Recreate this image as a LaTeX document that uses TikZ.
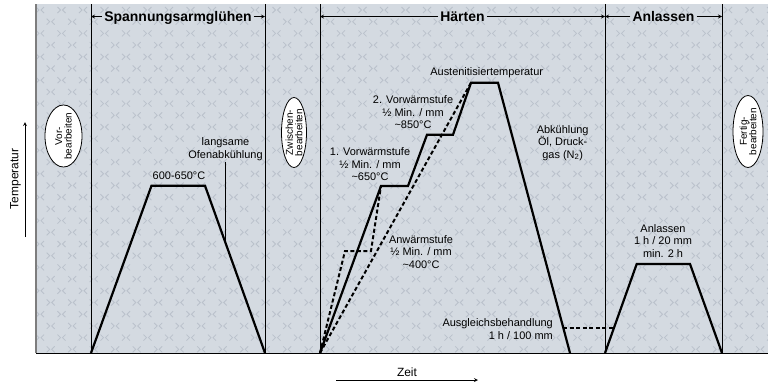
\documentclass[tikz,border=0pt]{standalone}
\usepackage{fontspec}
\setmainfont{Liberation Sans}
\definecolor{chartbg}{RGB}{212,218,225}
\definecolor{chartx}{RGB}{186,193,203}
\definecolor{edgegray}{RGB}{125,125,125}
\begin{document}
\begin{tikzpicture}[x=1bp,y=-1bp,>=stealth,
    curve/.style={line width=2.2bp,line join=miter},
    stage/.style={dash pattern=on 4bp off 2.5bp,line width=2bp},
    lbl/.style={font=\fontsize{11}{12.5}\selectfont,align=center,inner sep=1bp},
    hdr/.style={font=\fontsize{14}{16}\selectfont\bfseries,inner sep=2bp,text height=10bp,text depth=0bp},
    tag/.style={font=\fontsize{10}{9.5}\selectfont,align=center,rotate=90,inner sep=0pt},
    axislbl/.style={font=\fontsize{12}{14}\selectfont,inner sep=1bp}]
\useasboundingbox (0,0) rectangle (768,387);
% background with cross pattern
\fill[chartbg] (36,4) rectangle (768,353);
\begin{scope}
  \clip (36,4) rectangle (768,353);
  \foreach \r in {0,...,29}{
    \pgfmathsetmacro{\yy}{10+11.7*\r}
    \pgfmathsetmacro{\xo}{40+10.7*mod(\r,2)}
    \foreach \c in {-1,...,34}{
      \begin{scope}[shift={({\xo+21.5*\c},\yy)}]
        \draw[chartx,line width=0.8bp] (-4,-3)--(-1,0)--(-4,3) (4,-3)--(1,0)--(4,3);
      \end{scope}
    }
  }
\end{scope}
% stage borders
\coordinate (vA) at (91,4);
\coordinate (vB) at (265,4);
\coordinate (vC) at (320,4);
\coordinate (vD) at (605,4);
\coordinate (vE) at (722,4);
\draw[edgegray,line width=1.2bp] (36,4) -- (36,353);
\foreach \v in {vA,vB,vC,vD,vE}
  \draw[line width=0.9bp] (\v) -- (\v |- 0,353);
% headers
\node[hdr] (hdrSpan) at (178,16.5) {Spannungsarmglühen};
\node[hdr] (hdrHaert) at (462.5,16.5) {Härten};
\node[hdr] (hdrAnl) at (663.5,16.5) {Anlassen};
\draw[->,line width=0.8bp] (hdrSpan.west) -- (hdrSpan.west -| vA);
\draw[->,line width=0.8bp] (hdrSpan.east) -- (hdrSpan.east -| vB);
\draw[->,line width=0.8bp] (hdrHaert.west) -- (hdrHaert.west -| vC);
\draw[->,line width=0.8bp] (hdrHaert.east) -- (hdrHaert.east -| vD);
\draw[->,line width=0.8bp] (hdrAnl.west) -- (hdrAnl.west -| vD);
\draw[->,line width=0.8bp] (hdrAnl.east) -- (hdrAnl.east -| vE);
% processing ellipses
\coordinate (vorC) at (63.5,136);
\coordinate (zwiC) at (294,132.5);
\coordinate (fertC) at (748,131.5);
\draw[fill=white,line width=0.8bp] (vorC) ellipse [x radius=18.5,y radius=31];
\draw[fill=white,line width=0.8bp] (zwiC) ellipse [x radius=12.5,y radius=35];
\draw[fill=white,line width=0.8bp] (fertC) ellipse [x radius=15,y radius=36];
\node[tag] (vorLbl) at (vorC) {Vor-\\bearbeiten};
\node[tag] (zwiLbl) at (zwiC) {Zwischen-\\bearbeiten};
\node[tag] (fertLbl) at (fertC) {Fertig-\\bearbeiten};
% temperature curves
\draw[curve] (91,353) -- (151.5,185.7) -- (205,185.7) -- (265,353);
\draw[curve] (320,353) -- (381,186) -- (408,186) -- (427,134.7) -- (453,134.7)
  -- (471,82.7) -- (498,82.7) -- (570,353);
\draw[stage] (320,353) -- (345,251) -- (371,251) -- (381,186);
\draw[stage] (320,353) -- (471,82.7);
\draw[stage] (563.3,328) -- (613.5,328);
\draw[curve] (605,353) -- (636.7,264) -- (690,264) -- (722,353);
\draw[line width=1bp] (36,353) -- (768,353);
% labels
\node[lbl] (plateauLbl) at (179,176) {600-650°C};
\node[lbl] (ofenLbl) at (225.5,149) {langsame\\Ofenabkühlung};
\draw[line width=0.8bp] (ofenLbl.south) -- (225.5,243);
\node[lbl] (vw1Lbl) at (370,164.5) {1. Vorwärmstufe\\½ Min. / mm\\\textasciitilde650°C};
\node[lbl] (vw2Lbl) at (413,112.5) {2. Vorwärmstufe\\½ Min. / mm\\\textasciitilde850°C};
\node[lbl] (austLbl) at (486.7,72.3) {Austenitisiertemperatur};
\node[lbl] (abkLbl) at (562.7,143) {Abkühlung\\Öl, Druck-\\gas (N\textsubscript{2})};
\node[lbl] (anwLbl) at (421,252) {Anwärmstufe\\½ Min. / mm\\\textasciitilde400°C};
\node[lbl,anchor=east,align=right] (ausglLbl) at (554,329) {Ausgleichsbehandlung\\1 h / 100 mm};
\node[lbl] (anlLbl) at (663,241) {Anlassen\\1 h / 20 mm\\min. 2 h};
% axes
\draw[->,line width=0.8bp] (25,237) -- (25,122);
\node[axislbl,rotate=90] (tempLbl) at (15.5,179) {Temperatur};
\draw[->,line width=0.8bp] (336,380) -- (478,380);
\node[axislbl] (zeitLbl) at (407,372) {Zeit};
\end{tikzpicture}
\end{document}
